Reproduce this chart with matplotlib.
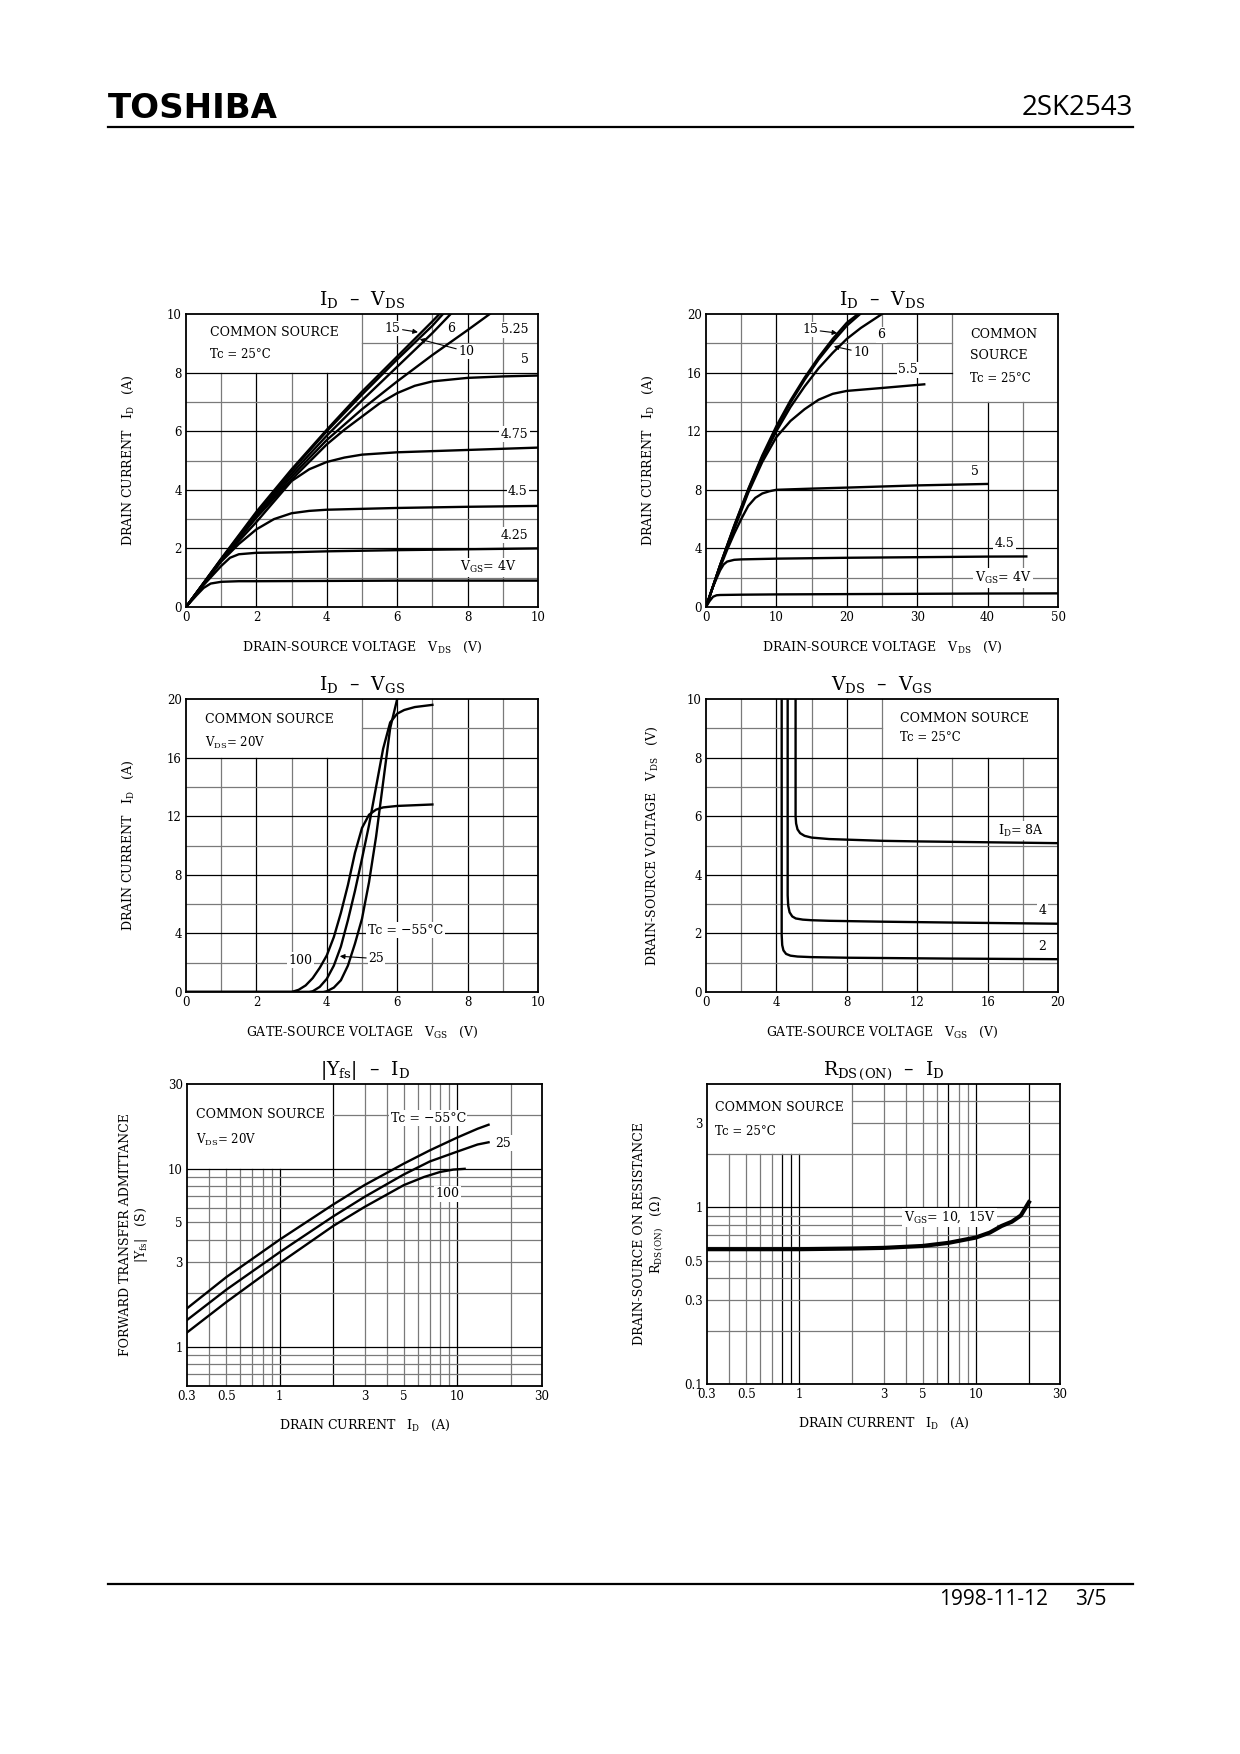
import numpy as np
import matplotlib
matplotlib.use('Agg')
import matplotlib.pyplot as plt
from matplotlib.lines import Line2D

plt.rcParams['font.family'] = ['DejaVu Serif']
plt.rcParams['mathtext.fontset'] = 'dejavuserif'

# ---------------- data ----------------
# ID - VDS (0..10 V)
lo_vgs_labels = ['15', '10', '6', '5.25', '5', '4.75', '4.5', '4.25', '4']
lo_vds = {
    '15':   [0, 1, 2, 3, 4, 5, 6, 7, 7.2],
    '10':   [0, 1, 2, 3, 4, 5, 6, 7, 7.3],
    '6':    [0, 1, 2, 3, 4, 5, 6, 7, 7.52],
    '5.25': [0, 1, 2, 3, 4, 5, 6, 7, 8, 8.63],
    '5':    [0, 1, 2, 3, 4, 4.5, 5, 5.5, 6, 6.5, 7, 8, 9, 10],
    '4.75': [0, 1, 2, 2.5, 3, 3.5, 4, 4.5, 5, 6, 8, 10],
    '4.5':  [0, 0.5, 1, 1.5, 2, 2.5, 3, 3.5, 4, 6, 8, 10],
    '4.25': [0, 0.5, 1, 1.25, 1.5, 2, 3, 4, 6, 8, 10],
    '4':    [0, 0.3, 0.5, 0.7, 1.0, 1.5, 2, 4, 6, 8, 10],
}
lo_id = {
    '15':   [0, 1.65, 3.25, 4.7, 6.05, 7.35, 8.55, 9.75, 10],
    '10':   [0, 1.63, 3.2, 4.65, 6.0, 7.25, 8.45, 9.6, 10],
    '6':    [0, 1.62, 3.15, 4.55, 5.85, 7.05, 8.2, 9.35, 10],
    '5.25': [0, 1.6, 3.1, 4.45, 5.7, 6.75, 7.7, 8.6, 9.45, 10],
    '5':    [0, 1.6, 3.05, 4.35, 5.55, 6.05, 6.5, 6.95, 7.3, 7.55, 7.7, 7.82, 7.87, 7.9],
    '4.75': [0, 1.6, 2.9, 3.6, 4.3, 4.7, 4.95, 5.1, 5.2, 5.28, 5.36, 5.44],
    '4.5':  [0, 0.78, 1.55, 2.15, 2.65, 3.0, 3.2, 3.28, 3.32, 3.38, 3.42, 3.45],
    '4.25': [0, 0.75, 1.4, 1.68, 1.8, 1.85, 1.87, 1.9, 1.94, 1.97, 2.0],
    '4':    [0, 0.4, 0.65, 0.8, 0.86, 0.88, 0.88, 0.89, 0.9, 0.9, 0.9],
}

# ID - VDS (0..50 V)
hi_vds = {
    '15':  [0, 2, 4, 6, 8, 10, 12, 14, 16, 18, 20, 21.6],
    '10':  [0, 2, 4, 6, 8, 10, 12, 14, 16, 18, 20, 21.9],
    '6':   [0, 2, 4, 6, 8, 10, 12, 14, 16, 18, 20, 22, 25],
    '5.5': [0, 2, 4, 6, 8, 10, 12, 14, 16, 18, 20, 25, 31],
    '5':   [0, 1, 2, 3, 4, 5, 6, 7, 8, 9, 10, 15, 20, 30, 40],
    '4.5': [0, 1, 2, 2.5, 3, 4, 5, 10, 20, 30, 40, 45.5],
    '4':   [0, 0.5, 1, 1.5, 2, 5, 10, 20, 30, 40, 50],
}
hi_id = {
    '15':  [0, 2.85, 5.55, 8.05, 10.35, 12.35, 14.1, 15.65, 17.05, 18.3, 19.4, 20],
    '10':  [0, 2.85, 5.5, 8.0, 10.25, 12.2, 13.95, 15.5, 16.9, 18.1, 19.2, 20],
    '6':   [0, 2.85, 5.45, 7.9, 10.1, 12.0, 13.65, 15.05, 16.3, 17.35, 18.3, 19.05, 20],
    '5.5': [0, 2.8, 5.3, 7.8, 9.9, 11.6, 12.7, 13.5, 14.15, 14.55, 14.75, 14.95, 15.2],
    '5':   [0, 1.4, 2.7, 3.9, 5.0, 6.0, 6.9, 7.45, 7.75, 7.9, 8.0, 8.08, 8.15, 8.3, 8.4],
    '4.5': [0, 1.4, 2.5, 2.9, 3.1, 3.22, 3.25, 3.3, 3.36, 3.4, 3.44, 3.45],
    '4':   [0, 0.4, 0.7, 0.8, 0.82, 0.84, 0.86, 0.88, 0.9, 0.92, 0.93],
}

# ID - VGS (VDS = 20 V)
tc_vgs = {
    '-55': [0, 3.9, 4.0, 4.2, 4.4, 4.6, 4.8, 5.0, 5.2, 5.4, 5.6, 5.8, 6.0],
    '25':  [0, 3.5, 3.6, 3.8, 4.0, 4.2, 4.4, 4.6, 4.8, 5.0, 5.2, 5.4, 5.6, 5.8, 6.0, 6.2, 6.5, 7.0],
    '100': [0, 3.0, 3.2, 3.4, 3.6, 3.8, 4.0, 4.2, 4.4, 4.6, 4.8, 5.0, 5.2, 5.4, 5.6, 6.0, 6.5, 7.0],
}
tc_id = {
    '-55': [0, 0, 0.05, 0.3, 0.8, 1.8, 3.3, 5.0, 7.5, 10.6, 14.3, 18.0, 20],
    '25':  [0, 0, 0.05, 0.35, 0.9, 1.8, 3.1, 4.9, 6.9, 9.1, 11.4, 14.0, 16.6, 18.4, 19.0, 19.25, 19.45, 19.6],
    '100': [0, 0, 0.15, 0.45, 0.95, 1.65, 2.5, 3.75, 5.4, 7.3, 9.5, 11.2, 12.1, 12.45, 12.6, 12.7, 12.75, 12.8],
}

# VDS - VGS
sat_vgs = {
    '8': [5.09, 5.09, 5.12, 5.2, 5.35, 5.6, 6, 7, 8, 10, 12, 16, 20],
    '4': [4.64, 4.64, 4.67, 4.75, 4.9, 5.1, 5.5, 6, 7, 8, 10, 14, 20],
    '2': [4.3, 4.3, 4.33, 4.4, 4.55, 4.8, 5.2, 6, 8, 10, 14, 20],
}
sat_vds = {
    '8': [10, 6.0, 5.75, 5.55, 5.42, 5.33, 5.27, 5.22, 5.2, 5.16, 5.14, 5.11, 5.08],
    '4': [10, 3.3, 2.95, 2.72, 2.58, 2.51, 2.47, 2.45, 2.43, 2.42, 2.4, 2.37, 2.33],
    '2': [10, 1.95, 1.6, 1.42, 1.3, 1.24, 1.21, 1.19, 1.17, 1.16, 1.14, 1.12],
}

# |Yfs| - ID
yfs_id = {
    '-55': [0.3, 0.5, 1, 2, 3, 5, 7, 10, 13, 15],
    '25':  [0.3, 0.5, 1, 2, 3, 5, 7, 10, 13, 15],
    '100': [0.3, 0.5, 1, 2, 3, 5, 6.5, 8, 9.5, 11],
}
yfs_val = {
    '-55': [1.64, 2.46, 4.0, 6.3, 8.1, 10.7, 12.7, 15.0, 16.8, 17.7],
    '25':  [1.41, 2.09, 3.4, 5.4, 6.95, 9.3, 11.0, 12.5, 13.7, 14.1],
    '100': [1.2, 1.78, 2.95, 4.77, 6.1, 8.1, 9.0, 9.6, 9.9, 10.0],
}

# RDS(ON) - ID
rds_id = [0.3, 0.5, 1, 2, 3, 5, 7, 10, 12, 14, 16, 18, 20]
rds_val = [0.58, 0.58, 0.58, 0.585, 0.59, 0.605, 0.63, 0.675, 0.72, 0.785, 0.83, 0.9, 1.07]

# ---------------- helpers ----------------
fig = plt.figure(figsize=(12.4, 17.54), dpi=100)
GRAY = '#7a7a7a'
FS = 9      # text in the charts
TS = 8.5    # tick labels


def axes_at(l, r, t, b):
    return fig.add_axes([l / 1240, 1 - b / 1754, (r - l) / 1240, (b - t) / 1754])


def grid(ax, xs, ys, box, dark_x=(), dark_y=()):
    x0, x1 = ax.get_xlim()
    y0, y1 = ax.get_ylim()
    bx0, bx1, by0, by1 = box
    for x in xs:
        c = 'black' if x in dark_x else GRAY
        top = by0 if bx0 < x < bx1 else y1
        ax.plot([x, x], [y0, top], color=c, lw=0.9, zorder=1)
    for y in ys:
        c = 'black' if y in dark_y else GRAY
        if by0 < y < by1:
            if bx0 > x0:
                ax.plot([x0, bx0], [y, y], color=c, lw=0.9, zorder=1)
            if bx1 < x1:
                ax.plot([bx1, x1], [y, y], color=c, lw=0.9, zorder=1)
        else:
            ax.plot([x0, x1], [y, y], color=c, lw=0.9, zorder=1)


def style(ax, xt, xl, yt, yl):
    ax.set_xticks(xt)
    ax.set_xticklabels(xl)
    ax.set_yticks(yt)
    ax.set_yticklabels(yl)
    ax.minorticks_off()
    ax.tick_params(length=0, labelsize=TS, pad=3)
    for s in ax.spines.values():
        s.set_linewidth(1.3)


def label(ax, x, y, s, ha='center'):
    ax.text(x, y, s, ha=ha, va='center', fontsize=FS, zorder=4,
            bbox=dict(boxstyle='square,pad=0.12', fc='white', ec='none'))


def arrow(ax, s, tip, txt):
    ax.annotate(s, xy=tip, xytext=txt, ha='center', va='center', fontsize=FS, zorder=4,
                bbox=dict(boxstyle='square,pad=0.08', fc='white', ec='none'),
                arrowprops=dict(arrowstyle='-|>', color='black', lw=0.8,
                                mutation_scale=7, shrinkA=1, shrinkB=0))


def titles(ax, title, xlab, ylab, ylx=-0.165, xly=-0.137, ty=1.05):
    ax.text(0.5, ty, title, transform=ax.transAxes, ha='center', va='center', fontsize=13.5)
    ax.text(0.5, xly, xlab, transform=ax.transAxes, ha='center', va='center', fontsize=FS)
    if isinstance(ylab, str):
        ylab = [(ylx, ylab)]
    for xx, t in ylab:
        ax.text(xx, 0.5, t, transform=ax.transAxes, ha='center', va='center',
                rotation=90, fontsize=FS)


LW = 1.7
ID_LBL = 'DRAIN CURRENT   I$_{\\rm D}$   (A)'
VDS_LBL = 'DRAIN-SOURCE VOLTAGE   V$_{\\rm DS}$   (V)'
VGS_LBL = 'GATE-SOURCE VOLTAGE   V$_{\\rm GS}$   (V)'
T_IDVDS = 'I$_{\\rm D}$  \u2013  V$_{\\rm DS}$'

# ---------------- chart 1: ID - VDS low ----------------
ax = axes_at(186, 538, 314, 607)
ax.set_xlim(0, 10)
ax.set_ylim(0, 10)
grid(ax, range(1, 10), range(1, 10), (0, 5, 8, 10), dark_x=(2, 4, 6, 8), dark_y=(2, 4, 6, 8))
for k in lo_vgs_labels:
    ax.plot(lo_vds[k], lo_id[k], color='black', lw=LW, zorder=5)
style(ax, range(0, 11, 2), [str(v) for v in range(0, 11, 2)],
      range(0, 11, 2), [str(v) for v in range(0, 11, 2)])
ax.text(0.68, 9.37, 'COMMON SOURCE', fontsize=FS, va='center')
ax.text(0.68, 8.61, 'Tc = 25\u00b0C', fontsize=FS - 0.5, va='center')
arrow(ax, '15', (6.59, 9.38), (5.86, 9.52))
arrow(ax, '10', (6.64, 9.14), (7.97, 8.72))
label(ax, 7.54, 9.52, '6')
label(ax, 9.34, 9.46, '5.25')
label(ax, 9.62, 8.44, '5')
label(ax, 9.34, 5.9, '4.75')
label(ax, 9.43, 3.93, '4.5')
label(ax, 9.34, 2.45, '4.25')
label(ax, 8.58, 1.35, 'V$_{\\rm GS}$= 4V')
titles(ax, T_IDVDS, VDS_LBL, ID_LBL)

# ---------------- chart 2: ID - VDS high ----------------
ax = axes_at(706, 1058, 314, 607)
ax.set_xlim(0, 50)
ax.set_ylim(0, 20)
grid(ax, range(5, 50, 5), range(2, 20, 2), (35, 50, 14, 20),
     dark_x=(10, 20, 30, 40), dark_y=(4, 8, 12, 16))
for k in hi_vds:
    ax.plot(hi_vds[k], hi_id[k], color='black', lw=LW, zorder=5)
style(ax, range(0, 51, 10), [str(v) for v in range(0, 51, 10)],
      range(0, 21, 4), [str(v) for v in range(0, 21, 4)])
ax.text(37.56, 18.63, 'COMMON', fontsize=FS, va='center')
ax.text(37.56, 17.15, 'SOURCE', fontsize=FS, va='center')
ax.text(37.56, 15.62, 'Tc = 25\u00b0C', fontsize=FS - 0.5, va='center')
arrow(ax, '15', (18.64, 18.7), (14.76, 18.93))
arrow(ax, '10', (18.16, 17.79), (22.09, 17.38))
label(ax, 24.93, 18.59, '6')
label(ax, 28.71, 16.19, '5.5')
label(ax, 38.17, 9.24, '5')
label(ax, 42.43, 4.33, '4.5')
label(ax, 42.2, 1.98, 'V$_{\\rm GS}$= 4V')
titles(ax, T_IDVDS, VDS_LBL, ID_LBL)

# ---------------- chart 3: ID - VGS ----------------
ax = axes_at(186, 538, 699, 992)
ax.set_xlim(0, 10)
ax.set_ylim(0, 20)
grid(ax, range(1, 10), range(2, 20, 2), (0, 5, 16, 20),
     dark_x=(2, 4, 6, 8), dark_y=(4, 8, 12, 16))
for k in tc_vgs:
    ax.plot(tc_vgs[k], tc_id[k], color='black', lw=LW, zorder=5)
style(ax, range(0, 11, 2), [str(v) for v in range(0, 11, 2)],
      range(0, 21, 4), [str(v) for v in range(0, 21, 4)])
ax.text(0.54, 18.59, 'COMMON SOURCE', fontsize=FS, va='center')
ax.text(0.54, 16.99, 'V$_{\\rm DS}$= 20V', fontsize=FS - 0.5, va='center')
label(ax, 5.17, 4.22, 'Tc = \u221255\u00b0C', ha='left')
label(ax, 3.26, 2.17, '100')
arrow(ax, '25', (4.37, 2.44), (5.41, 2.28))
titles(ax, 'I$_{\\rm D}$  \u2013  V$_{\\rm GS}$', VGS_LBL, ID_LBL)

# ---------------- chart 4: VDS - VGS ----------------
ax = axes_at(706, 1058, 699, 992)
ax.set_xlim(0, 20)
ax.set_ylim(0, 10)
grid(ax, range(2, 20, 2), range(1, 10), (10, 20, 8, 10),
     dark_x=(4, 8, 12, 16), dark_y=(2, 4, 6, 8))
for k in sat_vgs:
    ax.plot(sat_vgs[k], sat_vds[k], color='black', lw=LW, zorder=5)
style(ax, range(0, 21, 4), [str(v) for v in range(0, 21, 4)],
      range(0, 11, 2), [str(v) for v in range(0, 11, 2)])
ax.text(11.05, 9.35, 'COMMON SOURCE', fontsize=FS, va='center')
ax.text(11.05, 8.67, 'Tc = 25\u00b0C', fontsize=FS - 0.5, va='center')
label(ax, 17.92, 5.51, 'I$_{\\rm D}$= 8A')
label(ax, 19.11, 2.77, '4')
label(ax, 19.11, 1.54, '2')
titles(ax, 'V$_{\\rm DS}$  \u2013  V$_{\\rm GS}$', VGS_LBL,
       'DRAIN-SOURCE VOLTAGE   V$_{\\rm DS}$   (V)', ylx=-0.153)

# ---------------- chart 5: |Yfs| - ID ----------------
log_x = [0.4, 0.5, 0.6, 0.7, 0.8, 0.9, 1, 2, 3, 4, 5, 6, 7, 8, 9, 10, 20]
log_xt = [0.3, 0.5, 1, 3, 5, 10, 30]
log_xl = ['0.3', '0.5', '1', '3', '5', '10', '30']

ax = axes_at(187, 542, 1084, 1386)
ax.set_xscale('log')
ax.set_yscale('log')
ax.set_xlim(0.3, 30)
ax.set_ylim(0.6, 30)
grid(ax, log_x, [0.7, 0.8, 0.9, 1, 2, 3, 4, 5, 6, 7, 8, 9, 10, 20], (0.3, 2, 10, 30),
     dark_x=(1, 2, 10), dark_y=(1, 10))
for k in yfs_id:
    ax.plot(yfs_id[k], yfs_val[k], color='black', lw=LW, zorder=5)
style(ax, log_xt, log_xl, [1, 3, 5, 10, 30], ['1', '3', '5', '10', '30'])
ax.text(0.338, 20.1, 'COMMON SOURCE', fontsize=FS, va='center')
ax.text(0.338, 14.5, 'V$_{\\rm DS}$= 20V', fontsize=FS - 0.5, va='center')
label(ax, 6.86, 19.2, 'Tc = \u221255\u00b0C')
label(ax, 18.2, 13.9, '25')
label(ax, 8.77, 7.26, '100')
titles(ax, '|Y$_{\\rm fs}$|  \u2013  I$_{\\rm D}$', ID_LBL,
       [(-0.172, 'FORWARD TRANSFER ADMITTANCE'), (-0.128, '|Y$_{\\rm fs}$|   (S)')],
       xly=-0.13, ty=1.046)

# ---------------- chart 6: RDS(ON) - ID ----------------
ax = axes_at(707, 1060, 1084, 1384)
ax.set_xscale('log')
ax.set_yscale('log')
ax.set_xlim(0.3, 30)
ax.set_ylim(0.1, 5)
grid(ax, log_x, [0.2, 0.3, 0.4, 0.5, 0.6, 0.7, 0.8, 0.9, 1, 2, 3, 4], (0.3, 2, 2, 5),
     dark_x=(0.8, 0.9, 1, 7, 10, 20), dark_y=(1,))
ax.plot(rds_id, rds_val, color='black', lw=3.0, zorder=5)
style(ax, log_xt, log_xl, [0.1, 0.3, 0.5, 1, 3], ['0.1', '0.3', '0.5', '1', '3'])
ax.text(0.333, 3.7, 'COMMON SOURCE', fontsize=FS, va='center')
ax.text(0.333, 2.69, 'Tc = 25\u00b0C', fontsize=FS - 0.5, va='center')
label(ax, 7.1, 0.877, 'V$_{\\rm GS}$= 10,  15V')
titles(ax, 'R$_{\\rm DS\\,(ON)}$  \u2013  I$_{\\rm D}$', ID_LBL,
       [(-0.19, 'DRAIN-SOURCE ON RESISTANCE'), (-0.142, 'R$_{\\rm DS\\,(ON)}$   ($\\Omega$)')],
       xly=-0.13, ty=1.046)

# ---------------- page header / footer ----------------
fig.text(108 / 1240, 1 - 118 / 1754, 'TOSHIBA', family=['DejaVu Sans'],
         fontweight='bold', fontsize=24.5, ha='left', va='baseline')
fig.text(1133 / 1240, 1 - 115 / 1754, '2SK2543', family=['Open Sans', 'DejaVu Sans'],
         fontsize=20, ha='right', va='baseline')
fig.add_artist(Line2D([108 / 1240, 1133 / 1240], [1 - 127 / 1754] * 2, color='black', lw=1.6))
fig.add_artist(Line2D([108 / 1240, 1133 / 1240], [1 - 1584 / 1754] * 2, color='black', lw=1.6))
fig.text(1048 / 1240, 1 - 1605 / 1754, '1998-11-12',
         family=['Open Sans', 'DejaVu Sans'], fontsize=15, ha='right', va='baseline')
fig.text(1107 / 1240, 1 - 1605 / 1754, '3/5',
         family=['Open Sans', 'DejaVu Sans'], fontsize=15, ha='right', va='baseline')

fig.savefig('out.png', dpi=100, facecolor='white')
